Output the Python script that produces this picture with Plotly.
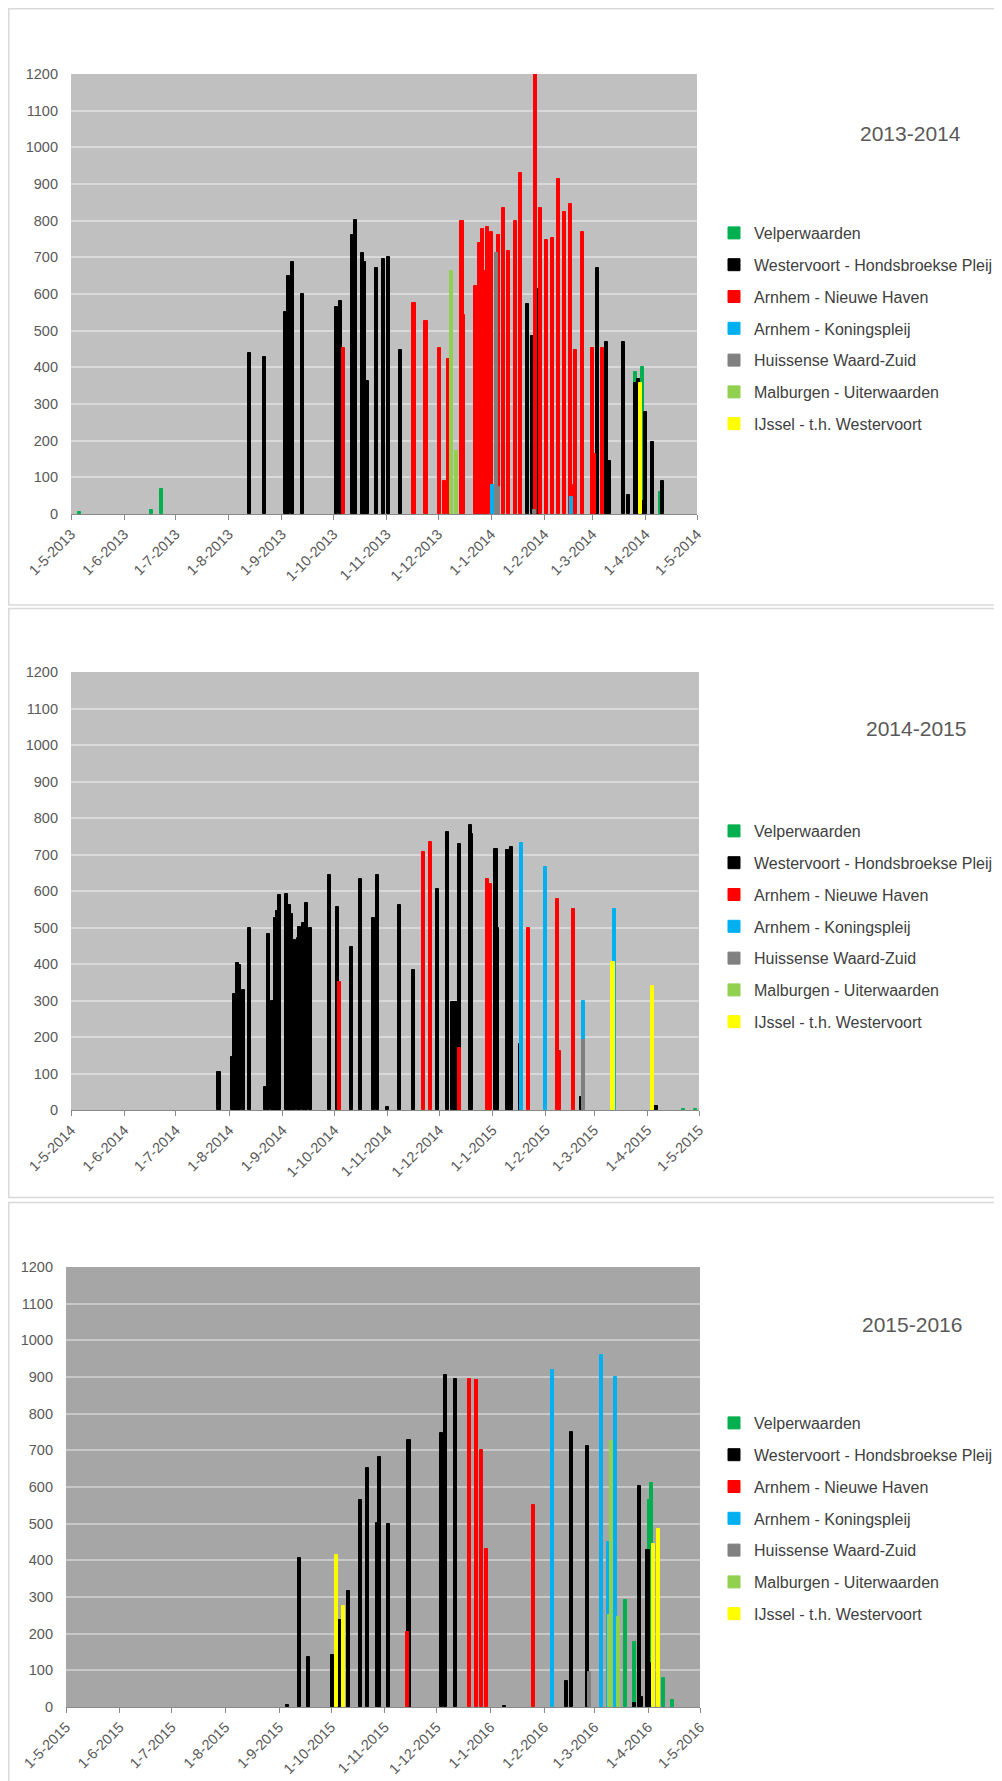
import plotly.graph_objects as go

SERIES = ["Velperwaarden", "Westervoort - Hondsbroekse Pleij", "Arnhem - Nieuwe Haven",
          "Arnhem - Koningspleij", "Huissense Waard-Zuid", "Malburgen - Uiterwaarden",
          "IJssel - t.h. Westervoort"]
COLORS = ["#00B050", "#000000", "#FF0000", "#00B0F0", "#808080", "#92D050", "#FFFF00"]
TITLES = ["2013-2014", "2014-2015", "2015-2016"]
MONTHS = [5, 6, 7, 8, 9, 10, 11, 12, 1, 2, 3, 4, 5]

# ---------------- 2013-2014 ----------------
a_velp_d = ["2013-05-06", "2013-06-17", "2013-06-23", "2014-03-26", "2014-03-30", "2014-04-10"]
a_velp_v = [5, 10, 68, 388, 400, 60]
a_west_d = ["2013-08-13", "2013-08-22", "2013-09-03", "2013-09-05", "2013-09-07", "2013-09-13",
            "2013-10-03", "2013-10-05", "2013-10-12", "2013-10-14", "2013-10-18", "2013-10-19",
            "2013-10-21", "2013-10-26", "2013-10-30", "2013-11-02", "2013-11-09", "2013-12-24",
            "2014-01-22", "2014-01-25", "2014-01-28", "2014-03-01", "2014-03-04", "2014-03-09",
            "2014-03-11", "2014-03-19", "2014-03-22", "2014-03-26", "2014-03-28", "2014-03-30",
            "2014-04-01", "2014-04-05", "2014-04-11"]
a_west_v = [440, 427, 552, 648, 688, 600,
            564, 582, 761, 802, 713, 688,
            363, 672, 695, 701, 448, 514,
            573, 485, 615, 439, 672, 470,
            145, 470, 52, 358, 367, 36,
            278, 197, 91]
a_nhav_d = ["2013-10-07", "2013-11-17", "2013-11-24", "2013-12-02", "2013-12-05", "2013-12-07",
            "2013-12-15", "2013-12-16", "2013-12-23", "2013-12-25", "2013-12-27", "2013-12-28",
            "2013-12-30", "2014-01-01", "2014-01-05", "2014-01-08", "2014-01-11", "2014-01-15",
            "2014-01-18", "2014-01-27", "2014-01-30", "2014-02-02", "2014-02-06", "2014-02-09",
            "2014-02-13", "2014-02-16", "2014-02-17", "2014-02-19", "2014-02-23", "2014-03-01",
            "2014-03-02", "2014-03-07"]
a_nhav_v = [453, 576, 526, 453, 91, 423,
            798, 542, 623, 739, 776, 664,
            782, 768, 762, 835, 717, 800,
            931, 1200, 835, 747, 754, 915,
            824, 846, 79, 448, 768, 453,
            165, 453]
a_kon_d = ["2014-01-02", "2014-02-17"]
a_kon_v = [78, 46]
a_huis_d = ["2014-01-04", "2014-01-05", "2014-01-26"]
a_huis_v = [713, 73, 11]
a_malb_d = ["2013-12-09", "2013-12-12"]
a_malb_v = [663, 172]
a_ijs_d = ["2014-03-29"]
a_ijs_v = [358]

# ---------------- 2014-2015 ----------------
b_velp_d = ["2015-04-22", "2015-04-29"]
b_velp_v = [4, 4]
b_west_d = ["2014-07-26", "2014-08-03", "2014-08-04", "2014-08-06", "2014-08-07", "2014-08-09",
            "2014-08-13", "2014-08-22", "2014-08-24", "2014-08-26", "2014-08-28", "2014-08-29",
            "2014-08-30", "2014-09-03", "2014-09-05", "2014-09-06", "2014-09-08", "2014-09-10",
            "2014-09-11", "2014-09-13", "2014-09-15", "2014-09-17", "2014-09-28", "2014-10-03",
            "2014-10-11", "2014-10-16", "2014-10-24", "2014-10-26", "2014-11-01", "2014-11-08",
            "2014-11-16", "2014-11-30", "2014-12-06", "2014-12-09", "2014-12-11", "2014-12-13",
            "2014-12-19", "2014-12-20", "2015-01-03", "2015-01-04", "2015-01-10", "2015-01-12",
            "2015-01-17", "2015-02-22", "2015-04-06"]
b_west_v = [105, 146, 318, 403, 396, 330,
            499, 64, 481, 300, 527, 545,
            589, 592, 561, 536, 467, 470,
            502, 511, 568, 499, 645, 557,
            447, 632, 526, 645, 7, 563,
            383, 606, 761, 296, 296, 728,
            782, 757, 715, 499, 711, 721,
            181, 35, 10]
b_nhav_d = ["2014-10-04", "2014-11-22", "2014-11-26", "2014-12-13", "2014-12-29", "2014-12-31",
            "2015-01-22", "2015-02-08", "2015-02-09", "2015-02-17"]
b_nhav_v = [351, 706, 734, 170, 633, 619, 499, 577, 163, 552]
b_kon_d = ["2015-01-18", "2015-02-01", "2015-02-23", "2015-03-13"]
b_kon_v = [731, 665, 300, 550]
b_huis_d = ["2015-02-23"]
b_huis_v = [192]
b_malb_d = []
b_malb_v = []
b_ijs_d = ["2015-03-12", "2015-04-04"]
b_ijs_v = [406, 341]

# ---------------- 2015-2016 ----------------
c_velp_d = ["2016-03-19", "2016-03-24", "2016-04-02", "2016-04-03", "2016-04-10", "2016-04-15"]
c_velp_v = [291, 178, 564, 611, 79, 18]
c_west_d = ["2015-09-06", "2015-09-13", "2015-09-18", "2015-10-02", "2015-10-06", "2015-10-11",
            "2015-10-18", "2015-10-22", "2015-10-28", "2015-10-29", "2015-11-03", "2015-11-15",
            "2015-12-04", "2015-12-06", "2015-12-12", "2016-01-09", "2016-02-14", "2016-02-17",
            "2016-02-26", "2016-03-24", "2016-03-27", "2016-03-28", "2016-04-01", "2016-04-02"]
c_west_v = [6, 406, 136, 141, 238, 317,
            565, 652, 502, 682, 500, 729,
            747, 906, 895, 4, 70, 751,
            711, 11, 602, 27, 427, 120]
c_nhav_d = ["2015-11-14", "2015-12-20", "2015-12-24", "2015-12-27", "2015-12-30", "2016-01-26"]
c_nhav_v = [204, 895, 891, 702, 432, 550]
c_kon_d = ["2016-02-06", "2016-03-05", "2016-03-09", "2016-03-13"]
c_kon_v = [920, 961, 450, 900]
c_huis_d = ["2016-02-27"]
c_huis_v = [95]
c_malb_d = ["2016-03-10", "2016-03-11", "2016-03-15"]
c_malb_v = [250, 725, 245]
c_ijs_d = ["2015-10-04", "2015-10-08", "2016-04-04", "2016-04-07"]
c_ijs_v = [415, 275, 445, 486]

PANELS = [
    [(a_velp_d, a_velp_v), (a_west_d, a_west_v), (a_nhav_d, a_nhav_v), (a_kon_d, a_kon_v),
     (a_huis_d, a_huis_v), (a_malb_d, a_malb_v), (a_ijs_d, a_ijs_v)],
    [(b_velp_d, b_velp_v), (b_west_d, b_west_v), (b_nhav_d, b_nhav_v), (b_kon_d, b_kon_v),
     (b_huis_d, b_huis_v), (b_malb_d, b_malb_v), (b_ijs_d, b_ijs_v)],
    [(c_velp_d, c_velp_v), (c_west_d, c_west_v), (c_nhav_d, c_nhav_v), (c_kon_d, c_kon_v),
     (c_huis_d, c_huis_v), (c_malb_d, c_malb_v), (c_ijs_d, c_ijs_v)],
]
START_YEARS = [2013, 2014, 2015]

# ---------------- layout geometry (target screen pixels) ----------------
SCREEN_W, SCREEN_H = 1002, 1781
OFF = 8                      # default page margin of the html body
W, H = SCREEN_W - OFF, SCREEN_H - OFF


def fx(px):
    return (px - OFF) / W


def fy(py):
    return 1 - (py - OFF) / H


PLOT_BOX = [(71, 697, 74, 514), (71, 699, 672, 1110), (66, 700, 1267, 1707)]  # x0,x1,ytop,ybot
PANEL_BOX = [(8.8, 1020, 8.8, 605), (8.8, 1020, 608.5, 1197.5), (8.8, 1020, 1202.5, 1800)]
PLOT_BG = ["#C0C0C0", "#C0C0C0", "#A6A6A6"]
GRID = ["#D9D9D9", "#D9D9D9", "#C8C8C8"]
TITLE_XY = [(910, 133.5), (916, 729), (912, 1324)]
LEGEND_TOP = [216, 814, 1406]
LEGEND_X = 714

FONT = "Liberation Sans, Arial, sans-serif"
TXT = "#595959"
DAY_MS = 86400000

fig = go.Figure()
for p in range(3):
    ax = "" if p == 0 else str(p + 1)
    lg = "legend" if p == 0 else "legend%d" % (p + 1)
    for s, (d, v) in enumerate(PANELS[p]):
        fig.add_trace(go.Bar(
            x=d or [None], y=v or [None], name=SERIES[s], width=1.8 * DAY_MS,
            marker=dict(color=COLORS[s], line=dict(color=COLORS[s], width=1)),
            xaxis="x" + ax, yaxis="y" + ax, legend=lg, legendgroup="p%d_s%d" % (p, s),
        ))

layout = dict(
    template="none",
    width=W, height=H, margin=dict(l=0, r=0, t=0, b=0, autoexpand=False),
    paper_bgcolor="white", plot_bgcolor="rgba(0,0,0,0)", barmode="overlay", bargap=0,
    font=dict(family=FONT, color=TXT, size=14),
    shapes=[], annotations=[],
)
for p in range(3):
    ax = "" if p == 0 else str(p + 1)
    x0, x1, yt, yb = PLOT_BOX[p]
    y0 = START_YEARS[p]
    tickvals, ticktext = [], []
    for i, m in enumerate(MONTHS):
        yr = y0 if (i < 8) else y0 + 1
        tickvals.append("%d-%02d-01" % (yr, m))
        ticktext.append("1-%d-%d" % (m, yr))
    layout["xaxis" + ax] = dict(
        type="date", domain=[fx(x0), fx(x1)], anchor="y" + ax, automargin=False,
        range=["%d-05-01" % y0, "%d-05-01" % (y0 + 1)],
        tickmode="array", tickvals=tickvals, ticktext=ticktext, tickangle=-45,
        ticks="outside", ticklen=5, tickcolor="#898989", showline=True, linecolor="#898989",
        showgrid=False, zeroline=False, tickfont=dict(size=14.5, color=TXT, family=FONT),
    )
    layout["yaxis" + ax] = dict(
        domain=[fy(yb), fy(yt)], anchor="x" + ax, range=[0, 1200], dtick=100,
        automargin=False,
        showgrid=True, gridcolor=GRID[p], gridwidth=1.5, zeroline=False, showline=False,
        ticks="", ticklabelstandoff=12, tickfont=dict(size=14.5, color=TXT, family=FONT),
    )
    lg = "legend" if p == 0 else "legend%d" % (p + 1)
    layout[lg] = dict(
        x=fx(LEGEND_X), xanchor="left", y=fy(LEGEND_TOP[p]), yanchor="top",
        bgcolor="rgba(0,0,0,0)", font=dict(size=16, color="#404040", family=FONT),
        tracegroupgap=8, traceorder="grouped", itemclick=False,
    )
    layout["shapes"].append(dict(
        type="rect", xref="x" + ax + " domain", yref="y" + ax + " domain",
        x0=0, x1=1, y0=0, y1=1, fillcolor=PLOT_BG[p], line=dict(width=0), layer="below"))
    bx0, bx1, by0, by1 = PANEL_BOX[p]
    layout["shapes"].append(dict(
        type="rect", xref="paper", yref="paper", x0=fx(bx0), x1=fx(bx1),
        y0=fy(by1), y1=fy(by0), line=dict(color="#D9D9D9", width=1.5),
        fillcolor="rgba(0,0,0,0)", layer="below"))
    tx, ty = TITLE_XY[p]
    layout["annotations"].append(dict(
        text=TITLES[p], xref="paper", yref="paper", x=fx(tx), y=fy(ty),
        xanchor="center", yanchor="middle",
        showarrow=False, font=dict(size=21, color=TXT, family=FONT)))

fig.update_layout(**layout)
fig.write_html("out.html")
